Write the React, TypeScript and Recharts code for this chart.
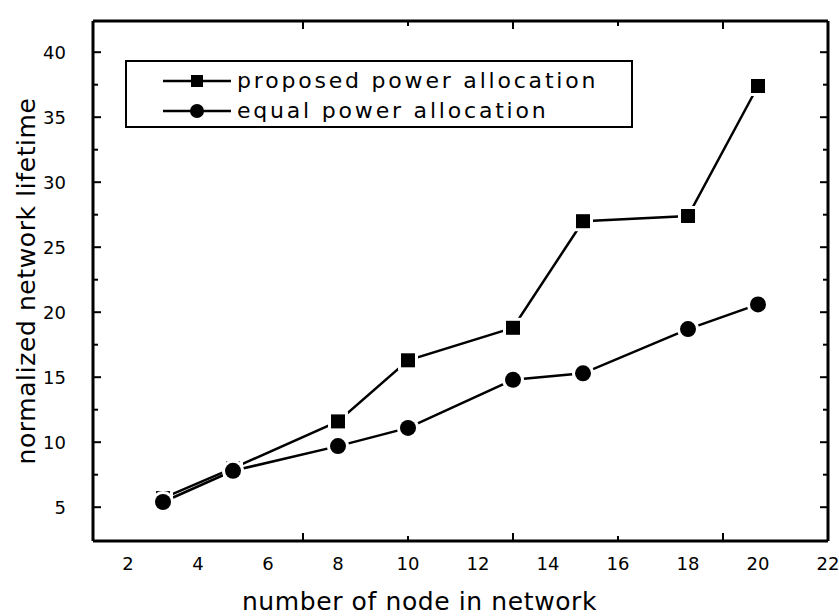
import { LineChart, Line, XAxis, YAxis, Legend, Label } from 'recharts'

/* ─── data ─── */
const nodes = [3, 5, 8, 10, 13, 15, 18, 20]
const proposed = [5.7, 8.0, 11.6, 16.3, 18.8, 27.0, 27.4, 37.4]
const equal = [5.4, 7.8, 9.7, 11.1, 14.8, 15.3, 18.7, 20.6]

const xMajor = [2, 4, 6, 8, 10, 12, 14, 16, 18, 20, 22]
const xMinor = [3, 5, 7, 9, 11, 13, 15, 17, 19, 21]
const yMajor = [5, 10, 15, 20, 25, 30, 35, 40]
const yMinor = [7.5, 12.5, 17.5, 22.5, 27.5, 32.5, 37.5]

const seriesNames = ['proposed power allocation', 'equal power allocation']

const data = nodes.map((n, i) => ({ n, proposed: proposed[i], equal: equal[i] }))

const FONT = '"DejaVu Sans", "Liberation Sans", Arial, sans-serif'
const X_DOMAIN: [number, number] = [1, 22]
const Y_DOMAIN: [number, number] = [2.4, 42.4]
const tickFont = { fontSize: 18, fill: '#000', fontFamily: FONT }
const axisStroke = { stroke: '#000', strokeWidth: 3 }
const tickStroke = { stroke: '#000', strokeWidth: 2 }

// tick marks only, no label
const NoLabel = () => <g />

/* ─── markers with a small white halo, like the original gaps ─── */
function SquareDot(props: any) {
  const { cx, cy } = props
  if (cx == null || cy == null) return null
  return (
    <g>
      <rect x={cx - 10} y={cy - 10} width={20} height={20} fill="#fff" />
      <rect x={cx - 7} y={cy - 7} width={14} height={14} fill="#000" />
    </g>
  )
}

function CircleDot(props: any) {
  const { cx, cy } = props
  if (cx == null || cy == null) return null
  return (
    <g>
      <circle cx={cx} cy={cy} r={11} fill="#fff" />
      <circle cx={cx} cy={cy} r={8} fill="#000" />
    </g>
  )
}

function LegendBox() {
  const rows = [
    { name: seriesNames[0], shape: 'square' },
    { name: seriesNames[1], shape: 'circle' },
  ]
  return (
    <div style={{ width: 508, height: 68, border: '2px solid #000', boxSizing: 'border-box', background: '#fff', position: 'relative' }}>
      {rows.map((r, i) => (
        <div key={r.name} style={{ position: 'absolute', left: 0, top: 4 + i * 30, height: 30, display: 'flex', alignItems: 'center' }}>
          <svg width={110} height={30} style={{ display: 'block' }}>
            <line x1={36} x2={104} y1={15} y2={15} stroke="#000" strokeWidth={2.5} />
            {r.shape === 'square'
              ? <rect x={64} y={9} width={12} height={12} fill="#000" />
              : <circle cx={70} cy={15} r={7} fill="#000" />}
          </svg>
          <span style={{ fontFamily: FONT, fontSize: 22, letterSpacing: 2.8, color: '#000', lineHeight: '30px' }}>{r.name}</span>
        </div>
      ))}
    </div>
  )
}

export default function App() {
  return (
    <div style={{ position: 'absolute', left: 0, top: 0, background: '#fff', fontFamily: FONT }}>
      <LineChart width={839} height={616} data={data} margin={{ top: 21, right: 11, left: 0, bottom: 0 }}>
        {/* labelled axes */}
        <XAxis xAxisId="x" type="number" dataKey="n" domain={X_DOMAIN} allowDataOverflow ticks={xMajor}
          interval={0} height={75} tickLine={false} tickMargin={10} tick={tickFont} axisLine={axisStroke}>
          <Label value="number of node in network" position="insideBottom" offset={6} dx={-41}
            style={{ fontSize: 25, fill: '#000', fontFamily: FONT, letterSpacing: 0.6 }} />
        </XAxis>
        <YAxis yAxisId="y" type="number" domain={Y_DOMAIN} allowDataOverflow ticks={yMajor}
          interval={0} width={93} tickLine={false} tickMargin={21} tick={tickFont} axisLine={axisStroke}>
          <Label value="normalized network lifetime" angle={-90} position="center" dx={-20}
            style={{ fontSize: 25, fill: '#000', fontFamily: FONT, letterSpacing: 0.6, textAnchor: 'middle' }} />
        </YAxis>

        {/* inward tick marks: thin mirrored axes on all four sides */}
        <XAxis xAxisId="xb" type="number" domain={X_DOMAIN} allowDataOverflow ticks={xMajor} interval={0} height={1}
          orientation="bottom" mirror tick={NoLabel} axisLine={false} tickSize={8} tickLine={tickStroke} />
        <XAxis xAxisId="xbm" type="number" domain={X_DOMAIN} allowDataOverflow ticks={xMinor} interval={0} height={1}
          orientation="bottom" mirror tick={NoLabel} axisLine={false} tickSize={4} tickLine={tickStroke} />
        <XAxis xAxisId="xt" type="number" domain={X_DOMAIN} allowDataOverflow ticks={xMajor} interval={0} height={1}
          orientation="top" mirror tick={NoLabel} axisLine={axisStroke} tickSize={8} tickLine={tickStroke} />
        <XAxis xAxisId="xtm" type="number" domain={X_DOMAIN} allowDataOverflow ticks={xMinor} interval={0} height={1}
          orientation="top" mirror tick={NoLabel} axisLine={false} tickSize={4} tickLine={tickStroke} />

        <YAxis yAxisId="yl" type="number" domain={Y_DOMAIN} allowDataOverflow ticks={yMajor} interval={0} width={1}
          orientation="left" mirror tick={NoLabel} axisLine={false} tickSize={8} tickLine={tickStroke} />
        <YAxis yAxisId="ylm" type="number" domain={Y_DOMAIN} allowDataOverflow ticks={yMinor} interval={0} width={1}
          orientation="left" mirror tick={NoLabel} axisLine={false} tickSize={4} tickLine={tickStroke} />
        <YAxis yAxisId="yr" type="number" domain={Y_DOMAIN} allowDataOverflow ticks={yMajor} interval={0} width={1}
          orientation="right" mirror tick={NoLabel} axisLine={axisStroke} tickSize={8} tickLine={tickStroke} />
        <YAxis yAxisId="yrm" type="number" domain={Y_DOMAIN} allowDataOverflow ticks={yMinor} interval={0} width={1}
          orientation="right" mirror tick={NoLabel} axisLine={false} tickSize={4} tickLine={tickStroke} />

        <Line xAxisId="x" yAxisId="y" type="linear" dataKey="proposed" name={seriesNames[0]}
          stroke="#000" strokeWidth={2.5} dot={<SquareDot />} activeDot={false} isAnimationActive={false} />
        <Line xAxisId="x" yAxisId="y" type="linear" dataKey="equal" name={seriesNames[1]}
          stroke="#000" strokeWidth={2.5} dot={<CircleDot />} activeDot={false} isAnimationActive={false} />

        <Legend layout="vertical" verticalAlign="middle" align="center" content={() => <LegendBox />}
          wrapperStyle={{ position: 'absolute', left: 125, top: 60, width: 508, height: 68 }} />
      </LineChart>
    </div>
  )
}
